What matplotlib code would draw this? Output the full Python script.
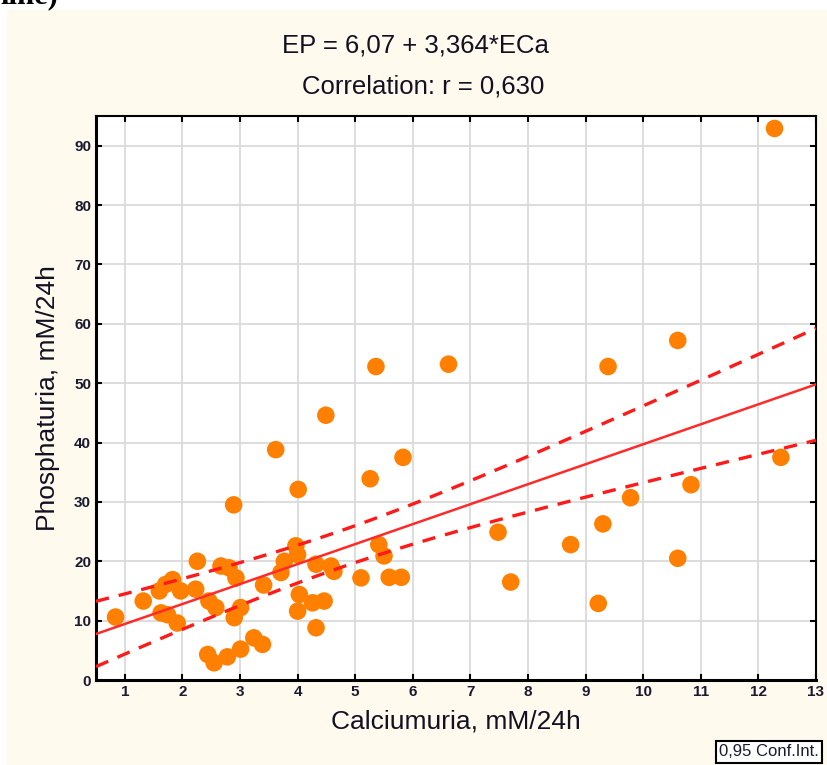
import numpy as np
import matplotlib.pyplot as plt
from matplotlib.patches import Rectangle

# Calciumuria (x) and phosphaturia (y), mM/24h
calciumuria = [0.84, 1.32, 1.60, 1.71, 1.83, 1.97, 2.23, 2.26, 1.63, 1.74,
               1.91, 2.46, 2.58, 2.67, 2.81, 2.93, 3.01, 2.90, 2.44, 2.55,
               2.78, 3.01, 3.24, 3.39, 3.41, 3.71, 3.77, 3.97, 4.00, 4.03,
               4.00, 4.26, 4.46, 4.32, 4.32, 4.58, 4.63, 5.10, 5.41, 5.50,
               5.59, 5.80, 2.89, 3.62, 4.01, 4.49, 5.26, 5.36, 5.83, 6.62,
               7.48, 7.70, 8.74, 9.22, 9.30, 9.39, 9.78, 10.60, 10.60, 10.83,
               12.28, 12.39]
phosphaturia = [10.6, 13.3, 15.0, 16.1, 16.9, 15.0, 15.3, 20.0, 11.3, 11.0,
                9.6, 13.3, 12.2, 19.2, 18.9, 17.2, 12.2, 10.5, 4.3, 2.9,
                3.9, 5.2, 7.1, 6.0, 16.0, 18.1, 20.0, 22.6, 21.1, 14.4,
                11.6, 13.0, 13.3, 8.8, 19.5, 19.2, 18.3, 17.2, 22.8, 20.9,
                17.3, 17.3, 29.5, 38.8, 32.1, 44.6, 33.9, 52.8, 37.5, 53.2,
                24.9, 16.5, 22.8, 12.9, 26.3, 52.8, 30.7, 57.2, 20.5, 32.9,
                92.9, 37.5]

intercept = 6.07
slope = 3.364
r_value = 0.630
t_crit = 2.0  # t(0.975, n-2) for n around 60

x = np.array(calciumuria)
y = np.array(phosphaturia)

plt.rcParams['font.family'] = ['Liberation Sans', 'DejaVu Sans']

fig = plt.figure(figsize=(8.28, 7.65), dpi=100, facecolor='white')
fig.patches.append(Rectangle((7 / 828, 0), 1, 755 / 765, transform=fig.transFigure,
                             facecolor='#FFF9EE', edgecolor='none', zorder=-10))
# tail of the caption line above the chart
fig.text(0.0, 0.996, 'line)', family='Liberation Serif', fontweight='bold',
         fontsize=22, va='baseline', ha='left')

ax = fig.add_axes([96 / 828, 85 / 765, 720 / 828, 564 / 765])
ax.set_facecolor('white')

# regression line and 95% confidence band
xs = np.linspace(0.5, 13, 200)
fit = intercept + slope * xs
resid = y - (intercept + slope * x)
n = len(x)
s = np.sqrt(np.sum(resid ** 2) / (n - 2))
sxx = np.sum((x - x.mean()) ** 2)
half = t_crit * s * np.sqrt(1 / n + (xs - x.mean()) ** 2 / sxx)

ax.scatter(x, y, s=160, color='#FF8000', edgecolors='none', zorder=3)
ax.plot(xs, fit, color='#FF2A2A', lw=1.8, zorder=4)
ax.plot(xs, fit + half, color='#FF1A1A', lw=2.4, ls=(0, (4, 3)), zorder=4)
ax.plot(xs, fit - half, color='#FF1A1A', lw=2.4, ls=(0, (4, 3)), zorder=4)

ax.set_xlim(0.5, 13)
ax.set_ylim(0, 95)
ax.set_xticks(range(1, 14))
ax.set_yticks(range(0, 100, 10))
ax.grid(True, color='#DADADA', lw=1.3)
ax.set_axisbelow(True)
ax.tick_params(direction='in', length=4, width=1.5, labelsize=11,
               labelcolor='#1A1A30', top=True, right=True)
for lab in ax.get_xticklabels() + ax.get_yticklabels():
    lab.set_fontweight('bold')
for side in ax.spines.values():
    side.set_linewidth(1.5)
ax.spines['left'].set_linewidth(2.2)
ax.spines['bottom'].set_linewidth(2.2)

ax.set_xlabel('Calciumuria, mM/24h', fontsize=19, labelpad=8, color='#111122')
ax.set_ylabel('Phosphaturia, mM/24h', fontsize=19, labelpad=10, color='#111122')

fig.text(0.502, 0.941, 'EP = 6,07 + 3,364*ECa', fontsize=18.5, ha='center',
         va='center', color='#111122')
fig.text(0.511, 0.887, 'Correlation: r = 0,630', fontsize=18.5, ha='center',
         va='center', color='#111122')

fig.text(719 / 828, 13 / 765, '0,95 Conf.Int.', fontsize=12, color='#1A1A30',
         ha='left', va='center',
         bbox=dict(boxstyle='square,pad=0.2', facecolor='white', edgecolor='black', lw=1.5))

fig.savefig('out.png', dpi=100, facecolor=fig.get_facecolor())
